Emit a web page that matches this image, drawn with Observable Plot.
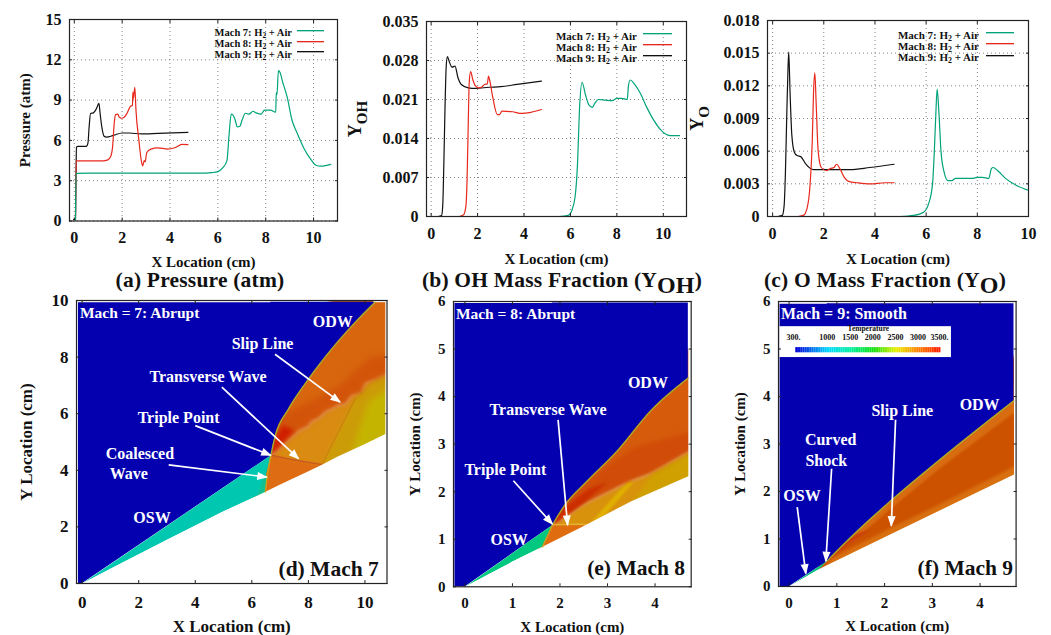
<!DOCTYPE html>
<html><head><meta charset="utf-8">
<script src="https://cdn.jsdelivr.net/npm/d3@7"></script>
<script src="https://cdn.jsdelivr.net/npm/@observablehq/plot@0.6"></script>
<style>
html,body{margin:0;padding:0;background:#fff}
#page{position:relative;width:1051px;height:635px;overflow:hidden;font-family:"Liberation Serif",serif;font-weight:bold;color:#111}
#page svg{position:absolute;max-width:none;overflow:visible}
.title{position:absolute;white-space:nowrap;transform:translateX(-50%);font-size:21.5px;line-height:24px;letter-spacing:.2px}
.title sub{font-size:24px;vertical-align:-6px;line-height:0}
.lg{position:absolute;white-space:nowrap;transform:translateX(-100%);line-height:11px}
.lg sub{font-size:.72em;vertical-align:-2px;line-height:0}
.sw{position:absolute;height:1px}
</style></head><body><div id="page"></div>
<script>
// ---------- line-chart series, [x (cm), value] ----------
const pressure7=[[0.05,0],[0.07,3.55],[1,3.56],[3,3.56],[5,3.56],[5.5,3.57],[5.75,3.6],[6,3.68],[6.2,3.95],[6.38,4.5],[6.47,6.46],[6.56,7.95],[6.62,7.9],[6.7,7.65],[6.82,7],[6.92,7.05],[7.02,7.55],[7.15,8.02],[7.3,7.95],[7.47,8.17],[7.6,8.05],[7.8,7.95],[7.95,8.25],[8.2,8.25],[8.42,8.1],[8.44,9.55],[8.47,9.4],[8.53,11.2],[8.6,11.05],[8.7,10.4],[8.9,9.2],[9.1,7.5],[9.3,6.6],[9.6,5.4],[9.9,4.55],[10.1,4.15],[10.3,4.08],[10.5,4.12],[10.72,4.22]];
const pressure8=[[0.05,0],[0.08,4.48],[0.5,4.48],[1.2,4.48],[1.4,4.55],[1.52,4.8],[1.6,5.5],[1.67,7.3],[1.72,7.9],[1.82,7.95],[1.87,7.75],[1.97,7.65],[2.07,7.7],[2.2,8],[2.35,8.55],[2.43,8.6],[2.45,9.6],[2.47,9.1],[2.53,9.95],[2.58,8.2],[2.7,6],[2.8,4.5],[2.86,4.1],[2.92,4.5],[2.96,4.4],[3.03,5.1],[3.2,5.35],[3.5,5.45],[3.9,5.35],[4.2,5.45],[4.5,5.7],[4.75,5.68]];
const pressure9=[[-0.03,0.1],[0.05,0.2],[0.07,3],[0.09,5.5],[0.15,5.55],[0.5,5.55],[0.57,5.8],[0.62,7],[0.68,8],[0.8,8.05],[0.92,8.35],[1.03,8.75],[1.08,8],[1.15,7],[1.25,6.3],[1.35,6.25],[1.6,6.35],[2,6.55],[2.3,6.55],[2.8,6.48],[3.5,6.52],[4.75,6.6]];
const oh7=[[5.5,0],[5.9,0.0002],[6.05,0.001],[6.2,0.0035],[6.3,0.009],[6.4,0.02],[6.5,0.0241],[6.65,0.0218],[6.8,0.02],[6.95,0.0196],[7.05,0.0203],[7.2,0.021],[7.5,0.0209],[7.8,0.0208],[8,0.0212],[8.2,0.0212],[8.45,0.021],[8.5,0.0235],[8.58,0.0245],[8.75,0.0238],[9,0.0222],[9.3,0.0195],[9.6,0.0172],[9.9,0.0155],[10.2,0.0146],[10.4,0.0145],[10.7,0.0145]];
const oh8=[[1.2,0],[1.4,0.0003],[1.5,0.002],[1.55,0.007],[1.6,0.017],[1.64,0.024],[1.7,0.026],[1.8,0.0245],[1.9,0.0235],[2.05,0.0231],[2.2,0.0233],[2.3,0.0237],[2.42,0.0238],[2.47,0.0252],[2.52,0.0245],[2.65,0.0215],[2.85,0.0183],[2.95,0.0183],[3.05,0.0189],[3.5,0.0188],[3.9,0.0185],[4.3,0.0187],[4.75,0.0192]];
const oh9=[[0.3,0],[0.45,0.0002],[0.5,0.002],[0.55,0.01],[0.6,0.02],[0.65,0.027],[0.7,0.0287],[0.78,0.0278],[0.9,0.0268],[1.03,0.027],[1.15,0.025],[1.3,0.0237],[1.6,0.0231],[1.9,0.023],[2.5,0.0232],[3,0.0233],[3.7,0.0237],[4.75,0.0243]];
const o7=[[5,0],[5.5,0.0001],[5.9,0.0004],[6.1,0.0012],[6.25,0.003],[6.32,0.006],[6.38,0.0095],[6.43,0.0117],[6.5,0.0095],[6.58,0.006],[6.7,0.0041],[6.85,0.0033],[7,0.0033],[7.15,0.0035],[7.5,0.0035],[7.8,0.0035],[8,0.0036],[8.2,0.0036],[8.45,0.0035],[8.55,0.0044],[8.62,0.0045],[8.8,0.0042],[9.1,0.0035],[9.5,0.0029],[10,0.0024]];
const o8=[[1,0],[1.2,0.0001],[1.35,0.0008],[1.45,0.0025],[1.55,0.007],[1.6,0.0115],[1.65,0.0132],[1.7,0.0105],[1.78,0.006],[1.9,0.0045],[2.1,0.0042],[2.25,0.0044],[2.4,0.0045],[2.5,0.0048],[2.65,0.0043],[2.8,0.0036],[3,0.0032],[3.3,0.0031],[3.8,0.003],[4.4,0.0031],[4.75,0.0031]];
const o9=[[0.2,0],[0.38,0.0001],[0.45,0.001],[0.5,0.004],[0.55,0.009],[0.6,0.0135],[0.63,0.0151],[0.68,0.0115],[0.75,0.0075],[0.85,0.0059],[0.95,0.0056],[1.1,0.0055],[1.3,0.0048],[1.6,0.0043],[2,0.0043],[3,0.0043],[3.8,0.0045],[4.75,0.0048]];
const seriesNames=["Mach 7","Mach 8","Mach 9"];
const seriesColors=["#00a37a","#e8281c","#111111"];
const evenTicks=[0,2,4,6,8,10];
const unitTicks=[0,1,2,3,4];
const pressureTicks=[0,3,6,9,12,15];
const ohTicks=[0,0.007,0.014,0.021,0.028,0.035];
const oTicks=[0,0.003,0.006,0.009,0.012,0.015,0.018];
const heightTicks10=[0,2,4,6,8,10];
const heightTicks6=[0,1,2,3,4,5,6];

// ---------- contour outlines, [x (cm), y (cm)] ----------
const wall7=[[0,0],[1,0.52],[2,1.03],[3,1.55],[4,2.05],[5,2.55],[6,3.01],[6.48,3.24],[7,3.5],[8,3.97],[8.48,4.2],[9,4.47],[10,4.93],[10.72,5.28]];
const odw7=[[6.67,4.53],[6.83,5.22],[7.3,6.17],[8.01,7.23],[8.83,8.29],[9.66,9.23],[10.36,9.94]];
const slip7=[[6.67,4.53],[7.42,5.22],[7.7,5.45],[7.95,5.55],[8.1,5.75],[8.36,5.87],[8.6,6.1],[8.85,6.2],[9.07,6.34],[9.3,6.35],[9.5,6.65],[9.85,6.75],[10,7.1],[10.36,7.23],[10.72,7.4],[11,7.5]];
const wall8=[[0,0],[1,0.53],[1.63,0.84],[2.5,1.28],[3.5,1.8],[4.71,2.33]];
const odw8=[[1.84,1.3],[2.09,1.7],[2.58,2.23],[3.21,2.86],[3.91,3.7],[4.7,4.39]];
const slip8=[[1.84,1.3],[2.47,1.74],[3.03,2.02],[3.45,2.23],[3.87,2.39],[4.71,2.86],[4.9,2.95]];
const wall9=[[0,0],[0.63,0.37],[2.06,1.07],[3.4,1.72],[4.71,2.36]];
const odw9=[[0.8,0.54],[1.36,1.1],[2.06,1.74],[3.1,2.62],[4.71,3.91]];
const temperatureStops=[300,1000,1500,2000,2500,3000,3500];
const temperatureColors=["#0000d8","#00d8ff","#00f0a0","#10e010","#e8f000","#ff8000","#ff1400"];
const temperatureTicks=[[300,"300.",0.09],[1000,"1000",0.8],[1500,"1500",1.28],[2000,"2000",1.75],[2500,"2500",2.23],[3000,"3000",2.7],[3500,"3500.",3.15]];

const page=document.getElementById("page");
const serifBold={fontFamily:"Liberation Serif",fontWeight:"bold",background:"transparent",color:"#111"};
const px=d=>d[0],py=d=>d[1];
const rev=a=>[...a].reverse();
const blue="#0400b0";
const poly=(pts,fill)=>Plot.line(pts,{x:px,y:py,fill,stroke:"none"});
const sky=(pts,top)=>Plot.areaY(pts,{x:px,y1:py,y2:()=>top,fill:blue,curve:"monotone-x"});
const edge=(pts,stroke,w=1,curve="linear")=>Plot.line(pts,{x:px,y:py,stroke,strokeWidth:w,curve,clip:true});
const soft=(pts,fill,b=2)=>Plot.line(pts,{x:px,y:py,fill,stroke:"none",clip:true,render(i,s,v,d,c,next){const g=next(i,s,v,d,c);g.style.filter=`blur(${b}px)`;return g;}});
const note=(rows,size=16)=>Plot.text(rows,{x:"x",y:"y",text:"t",fill:"#fff",fontSize:size,textAnchor:"middle"});
const solidHead=(color,ctx)=>{const ns="http://www.w3.org/2000/svg",doc=ctx.document,m=doc.createElementNS(ns,"marker"),p=doc.createElementNS(ns,"path");
  m.setAttribute("viewBox","-6 -5 10 10");m.setAttribute("markerWidth",7);m.setAttribute("markerHeight",7);m.setAttribute("orient","auto");m.setAttribute("refX",3);m.setAttribute("overflow","visible");
  p.setAttribute("d","M-5,-3.4L4,0L-5,3.4z");p.setAttribute("fill",color);p.setAttribute("stroke","none");m.appendChild(p);return m;};
const arrows=rows=>Plot.link(rows,{x1:"a",y1:"b",x2:"c",y2:"d",stroke:"#fff",strokeWidth:1.7,markerEnd:solidHead});

function relabel(svg,lfs){
  svg.querySelectorAll('[aria-label$="axis label"] text').forEach(t=>{
    t.style.fontSize=lfs+"px";
    const m=t.textContent.match(/^(.*)_\{(.*)\}(.*)$/);
    if(!m)return;
    const ns="http://www.w3.org/2000/svg";
    t.textContent=m[1];t.style.fontSize=(lfs+3)+"px";
    const s=document.createElementNS(ns,"tspan");s.textContent=m[2];s.setAttribute("dy",lfs*.35);s.style.fontSize=lfs+"px";t.appendChild(s);
  });
}
function panel({L,T,R,B,xd,yd,xt,yt,xl="X Location (cm)",yl,xo,yo,fs=16,lfs=15,xp=14,marks,grid=false}){
  const ml=84,mr=10,mt=8,mb=48;
  const svg=Plot.plot({
    width:ml+R-L+mr,height:mt+B-T+mb,marginLeft:ml,marginRight:mr,marginTop:mt,marginBottom:mb,
    style:serifBold,
    x:{domain:xd,ticks:xt},y:{domain:yd,ticks:yt},
    color:{type:"linear",domain:temperatureStops,range:temperatureColors},
    marks:[
      ...(grid?[Plot.gridX(xt,{stroke:"#777",strokeOpacity:.9,strokeDasharray:"1,3"}),Plot.gridY(yt,{stroke:"#777",strokeOpacity:.9,strokeDasharray:"1,3"})]:[]),
      ...marks,
      Plot.axisX({anchor:"top",ticks:xt,tickSize:-3,tickFormat:()=>"",label:null,stroke:"#222"}),
      Plot.axisY({anchor:"right",ticks:yt,tickSize:-3,tickFormat:()=>"",label:null,stroke:"#222"}),
      Plot.axisX({anchor:"bottom",ticks:xt,tickSize:-3,tickPadding:xp,tickFormat:String,fontSize:fs,label:xl,labelAnchor:"center",labelArrow:"none",labelOffset:xo,stroke:"#222"}),
      Plot.axisY({anchor:"left",ticks:yt,tickSize:-3,tickPadding:11,tickFormat:String,fontSize:fs,label:yl,labelAnchor:"center",labelArrow:"none",labelOffset:yo,stroke:"#222"}),
      Plot.frame({stroke:"#222",strokeWidth:1.2})
    ]});
  svg.style.left=(L-ml)+"px";svg.style.top=(T-mt)+"px";
  relabel(svg,lfs);page.appendChild(svg);
}
const lines=(a,b,c)=>[c,b,a].map((s,i)=>Plot.line(s,{x:px,y:py,stroke:seriesColors[2-i],strokeWidth:1.2,clip:true,curve:"monotone-x"}));
function legend(right,rows,s1,s2,size){
  seriesNames.forEach((n,i)=>{
    const d=document.createElement("div");d.className="lg";d.style.left=right+"px";d.style.top=(rows[i]-5.5)+"px";d.style.fontSize=size+"px";
    d.innerHTML=n+": H<sub>2</sub> + Air";page.appendChild(d);
    const k=document.createElement("div");k.className="sw";k.style.left=s1+"px";k.style.width=(s2-s1)+"px";k.style.top=Math.round(rows[i]-3)+"px";k.style.background=seriesColors[i];k.style.boxShadow=`0 1px 0 ${seriesColors[i]}55`;page.appendChild(k);
  });
}
function title(cx,html){const d=document.createElement("div");d.className="title";d.style.left=cx+"px";d.style.top="268px";d.innerHTML=html;page.appendChild(d);}

// (a)
panel({L:69,T:18.5,R:337,B:220,xd:[-0.2,11],yd:[0,15],xt:evenTicks,yt:pressureTicks,yl:"Pressure (atm)",xo:46,yo:50,grid:true,marks:lines(pressure7,pressure8,pressure9)});
// (b)
panel({L:426,T:21,R:686,B:216,xd:[-0.2,11],yd:[0,0.035],xt:evenTicks,yt:ohTicks,yl:"Y_{OH}",xo:47,yo:78,grid:true,marks:lines(oh7,oh8,oh9)});
// (c)
panel({L:767,T:20,R:1028,B:216,xd:[-0.2,10],yd:[0,0.018],xt:evenTicks,yt:oTicks,yl:"Y_{O}",xo:47,yo:77,grid:true,marks:lines(o7,o8,o9)});
legend(292,[32.7,43.7,54.3],297,324,10.5);
legend(637,[36,47,58.3],643,672,11);
legend(979,[35,46,57.7],986,1014,11);
title(200,"(a) Pressure (atm)");
title(562,"(b) OH Mass Fraction (Y<sub>OH</sub>)");
title(885,"(c) O Mass Fraction (Y<sub>O</sub>)");

// (d)
panel({L:76,T:299.5,R:386.5,B:582.5,xd:[-0.2,10.78],yd:[0,10],xt:evenTicks,yt:heightTicks10,yl:"Y Location (cm)",xo:48,yo:57,fs:17,lfs:17,xp:15,marks:[
  soft([[6.67,4.53],...slip7,[11,3],[6,3]],"#da8c12"),
  soft([[8.48,4.2],[9.66,6.6],[10.36,7.23],[11,7.5],[11,4]],"#cc9c08"),
  soft([[9.5,4.5],[10.1,6.4],[11,7],[11,4.5]],"#c4b400",3),
  soft([[6,3],[6.67,4.53],[7.4,4.38],[8.48,4.2],[8.3,3.5]],"#de6c12",1.5),
  soft([[6.67,4.53],[6,8],[9.5,10.5],[11,10.5],...rev(slip7)],"#d8660e",1.5),
  soft([[6.67,4.53],[6.6,5.4],[7.1,6],[8,6.4],[9.1,7],[10.2,8],[11,8.1],...rev(slip7)],"#d2540a",3),
  soft([[6.67,4.53],[6.8,5.1],[7.1,5.6],[7.5,5.4]],"#d01e00",2),
  edge([[6.67,4.53],[7.4,4.38],[8.48,4.2]],"#c85a20",1.4),
  edge([[8.48,4.2],[9.66,6.55]],"#c87a10",1),
  poly([[-0.15,0.02],[0,0.02],[6.67,4.53],[6.72,4.75],[6.72,9.94],[-0.15,9.94]],blue),
  sky(odw7,9.94),
  poly([...wall7.slice(0,8),[6.5,3.85],[6.67,4.53]],"#00c8b0"),
  poly([[6.2,3.1],[6.48,3.24],[6.55,3.85],[6.4,3.7]],"#10c090"),
  poly([[-0.2,0],...wall7,[10.78,5.28],[10.78,0]],"#fff"),
  poly([[10.72,0],[10.78,0],[10.78,10],[10.72,10]],"#fff"),
  poly([[10.3,9.94],[10.78,9.94],[10.78,10],[10.3,10]],"#fff"),
  edge([[6.48,3.24],[6.55,3.85],[6.67,4.53]],"#c8a020",1.4),
  edge(odw7,"#a0b030",1.2,"monotone-x"),
  note([{x:6.38,y:8.46,t:"Slip Line"},{x:4.45,y:7.3,t:"Transverse Wave"},{x:3.41,y:5.84,t:"Triple Point"},{x:2.04,y:4.59,t:"Coalesced"},{x:1.65,y:3.88,t:"Wave"},{x:2.47,y:2.31,t:"OSW"},{x:8.86,y:9.25,t:"ODW"}]),
  Plot.text([{x:-0.08,y:9.55,t:"Mach = 7: Abrupt"}],{x:"x",y:"y",text:"t",fill:"#fff",fontSize:15.5,textAnchor:"start"}),
  Plot.text([{x:10.49,y:0.5,t:"(d) Mach 7"}],{x:"x",y:"y",text:"t",fill:"#111",fontSize:21.5,textAnchor:"end"}),
  arrows([{a:6.82,b:8.1,c:9.12,d:6.41},{a:4.94,b:6.94,c:7.65,d:4.41},{a:4,b:5.58,c:6.67,d:4.53},{a:3.06,b:4.19,c:6.53,d:3.76}])
]});
// (e)
panel({L:453,T:300.7,R:690.7,B:586,xd:[-0.24,4.76],yd:[0,6],xt:unitTicks,yt:heightTicks6,yl:"Y Location (cm)",xo:45,yo:44,fs:15,marks:[
  soft([...slip8,[4.9,2],[2,0.6],[1.5,0.7]],"#d8920c"),
  soft([[3.5,1.74],[3.95,2.38],[4.9,2.9],[4.9,2.1]],"#cfa000"),
  soft([[2.65,1.35],[3.45,2.25],[3.55,2.2],[2.85,1.4]],"#e0b000",1),
  soft([[1.5,0.7],[1.84,1.3],[2.6,1.3],[2.9,1.45],[2.4,1]],"#e06c10",1.2),
  soft([[1.84,1.3],[1.6,2],[3.5,5],[4.9,5],...rev(slip8)],"#d65c0c",1.2),
  soft([[1.84,1.3],[1.95,1.62],[2.4,2.05],[3,2.55],[3.6,2.95],[4.9,3.3],...rev(slip8)],"#d04c08",2.5),
  soft([[1.84,1.3],[2,1.6],[2.6,2.05],[3,2.2],[2.47,1.74]],"#cc2e00",1.5),
  edge([[1.84,1.3],[2.4,1.32],[2.6,1.3]],"#e4b030",1.3),
  poly([[-0.22,0.01],[0,0.01],[1.84,1.3],[1.88,1.36],[1.88,5.97],[-0.22,5.97]],blue),
  sky(odw8,5.97),
  poly([...wall8.slice(0,3),[1.84,1.3]],"#00c880"),
  poly([[-0.24,0],...wall8,[4.76,2.36],[4.76,0]],"#fff"),
  poly([[4.7,0],[4.76,0],[4.76,6],[4.7,6]],"#fff"),
  edge([[1.63,0.84],[1.84,1.3]],"#c8a020",1.4),
  edge(odw8,"#a0b030",1.2,"monotone-x"),
  note([{x:3.85,y:4.28,t:"ODW"},{x:1.75,y:3.72,t:"Transverse Wave"},{x:0.85,y:2.46,t:"Triple Point"},{x:0.93,y:0.99,t:"OSW"}]),
  Plot.text([{x:-0.19,y:5.74,t:"Mach = 8: Abrupt"}],{x:"x",y:"y",text:"t",fill:"#fff",fontSize:15.5,textAnchor:"start"}),
  Plot.text([{x:4.63,y:0.39,t:"(e) Mach 8"}],{x:"x",y:"y",text:"t",fill:"#111",fontSize:21.5,textAnchor:"end"}),
  arrows([{a:1.02,b:2.23,c:1.84,d:1.32},{a:1.96,b:3.51,c:2.16,d:1.3}])
]});
// (f)
const ticksX=d3.scaleLinear([300,3500],[0.14,3.18]);
const bins=d3.range(300,3500,40).map(t=>({t,x1:ticksX(t),x2:ticksX(t+40)}));
panel({L:777.7,T:300.7,R:1015.3,B:585.7,xd:[-0.222,4.754],yd:[0,6],xt:unitTicks,yt:heightTicks6,yl:"Y Location (cm)",xo:45,yo:44,fs:15,marks:[
  soft([[0.6,0.3],[0.7,1],[1,2],[4.9,5],[4.9,2],[2,0.8]],"#cc5200",1),
  soft([[0.6,0.3],[2.06,0.98],[3.4,1.62],[4.9,2.3],[4.9,2.62],[3.4,1.85],[2.06,1.2],[0.9,0.6]],"#d87010",1.5),
  soft([[0.7,0.6],[1.3,1.2],[2,1.9],[3,2.8],[4.9,4.4],[4.9,3.8],[3.1,2.44],[2.06,1.58],[1.36,0.97]],"#d86c10",1),
  soft([[0.75,0.5],[1,0.82],[1.4,1.1],[1.7,1.2],[1.2,0.85],[0.95,0.65]],"#c83c08",1.2),
  poly([[-0.2,0.01],[0,0.01],[0.8,0.54],[0.84,0.58],[0.84,5.95],[-0.2,5.95]],blue),
  sky(odw9,5.95),
  poly([[0,0],[0.63,0.37],[0.8,0.54]],"#00c080"),
  poly([[-0.222,0],...wall9,[4.754,2.38],[4.754,0]],"#fff"),
  poly([[4.71,0],[4.754,0],[4.754,6],[4.71,6]],"#fff"),
  edge(odw9,"#a0b030",1.2,"monotone-x"),
  Plot.rect([{}],{x1:()=>-0.195,x2:()=>3.4,y1:()=>4.82,y2:()=>5.47,fill:"#fff"}),
  Plot.rect(bins,{x1:"x1",x2:"x2",y1:()=>4.92,y2:()=>5.03,fill:"t"}),
  Plot.text(temperatureTicks,{x:d=>d[2],y:()=>5.25,text:d=>d[1],fill:"#111",fontSize:8}),
  Plot.text([{x:1.66,y:5.43,t:"Temperature"}],{x:"x",y:"y",text:"t",fill:"#111",fontSize:7.5}),
  note([{x:3.99,y:3.82,t:"ODW"},{x:2.37,y:3.7,t:"Slip Line"},{x:0.87,y:3.08,t:"Curved"},{x:0.78,y:2.65,t:"Shock"},{x:0.27,y:1.9,t:"OSW"}]),
  Plot.text([{x:-0.17,y:5.74,t:"Mach = 9: Smooth"}],{x:"x",y:"y",text:"t",fill:"#fff",fontSize:16,textAnchor:"start"}),
  Plot.text([{x:4.69,y:0.38,t:"(f) Mach 9"}],{x:"x",y:"y",text:"t",fill:"#111",fontSize:21.5,textAnchor:"end"}),
  arrows([{a:0.17,b:1.67,c:0.35,d:0.27},{a:0.89,b:2.48,c:0.77,d:0.53},{a:2.23,b:3.51,c:2.14,d:1.28}])
]});
</script></body></html>
